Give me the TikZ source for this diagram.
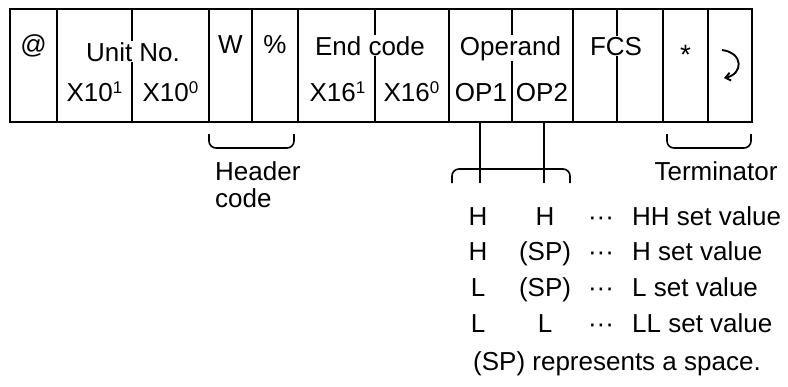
\documentclass[tikz,border=0pt]{standalone}
\usepackage{fontspec}
\setmainfont{Liberation Sans}
\usetikzlibrary{arrows.meta}
\newcommand\supr[1]{\raisebox{8pt}{\fontsize{17}{17}\selectfont #1}}
\begin{document}
\begin{tikzpicture}[x=1pt,y=-1pt,
  frame/.style={line width=1.6pt},
  lbl/.style={font=\fontsize{26}{30}\selectfont, inner sep=0pt, anchor=base},
  mask/.style={lbl, fill=white, inner ysep=1pt},
  txt/.style={font=\fontsize{26}{30}\selectfont, inner sep=0pt, anchor=base},
  desc/.style={txt, anchor=base west},
  brk/.style={line width=1.6pt, rounded corners=7pt},
  link/.style={line width=1.6pt}]
\useasboundingbox (0,0) rectangle (788,386);
% frame and dividers
\draw[frame] (10,9) rectangle (752,122);
\foreach \x in {57,132,209,252,298,375,449,512,573,617,663,708}
  \draw[frame] (\x,9) -- (\x,122);
% top labels
\node[lbl] (at) at (33.5,53) {@};
\node[mask] (unit) at (133,61) {Unit No.};
\node[lbl] (x101) at (94.5,101) {X10\supr{1}};
\node[lbl] (x100) at (170.5,101) {X10\supr{0}};
\node[lbl] (w) at (230.5,53) {W};
\node[lbl] (pct) at (275,53) {\%};
\node[mask] (endc) at (370,55) {End code};
\node[lbl] (x161) at (337.5,101) {X16\supr{1}};
\node[lbl] (x160) at (411.5,101) {X16\supr{0}};
\node[mask] (oper) at (510.5,55) {Operand};
\node[lbl] (op1) at (481,101) {OP1};
\node[lbl] (op2) at (542,101) {OP2};
\node[mask] (fcs) at (616,55) {FCS};
\node[lbl, font=\fontsize{28}{30}\selectfont] (ast) at (685.5,64) {*};
% return symbol
\draw[line width=1.9pt, -{Straight Barb[length=5pt,width=8pt]}]
  (722,50) .. controls (744,53) and (743,74) .. (724,78);
% brackets
\draw[brk] (209,134) -- (209,148) -- (294,148) -- (294,134);
\draw[brk] (667,134) -- (667,148) -- (751,148) -- (751,134);
\draw[brk] (452,183) -- (452,169) -- (570,169) -- (570,183);
% connectors from OP1 / OP2
\coordinate (op1top) at (480,122);
\coordinate (op1end) at (480,183);
\coordinate (op2top) at (544,122);
\coordinate (op2end) at (544,183);
\draw[link] (op1top) -- (op1end);
\draw[link] (op2top) -- (op2end);
% bracket labels
\node[desc] (hdr1) at (215,180) {Header};
\node[desc] (hdr2) at (215,207) {code};
\node[txt] (term) at (716,180) {Terminator};
% operand table
\node[txt] (r1a) at (478,225) {H};
\node[txt] (r1b) at (545,225) {H};
\node[txt] (r1c) at (601,225) {\char"00B7\char"00B7\char"00B7};
\node[desc] (r1d) at (632,225) {HH set value};
\node[txt] (r2a) at (478,260) {H};
\node[txt] (r2b) at (545,260) {(SP)};
\node[txt] (r2c) at (601,260) {\char"00B7\char"00B7\char"00B7};
\node[desc] (r2d) at (632,260) {H set value};
\node[txt] (r3a) at (478,296) {L};
\node[txt] (r3b) at (545,296) {(SP)};
\node[txt] (r3c) at (601,296) {\char"00B7\char"00B7\char"00B7};
\node[desc] (r3d) at (632,296) {L set value};
\node[txt] (r4a) at (478,332) {L};
\node[txt] (r4b) at (545,332) {L};
\node[txt] (r4c) at (601,332) {\char"00B7\char"00B7\char"00B7};
\node[desc] (r4d) at (632,332) {LL set value};
\node[desc] (note) at (473,370) {(SP) represents a space.};
\end{tikzpicture}
\end{document}
